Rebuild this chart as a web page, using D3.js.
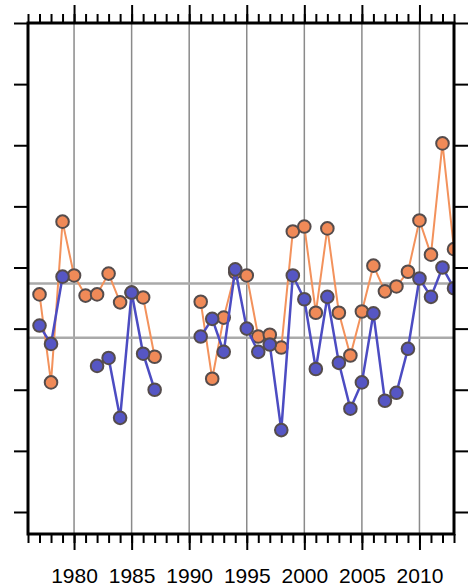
<!DOCTYPE html>
<html lang="en">

<head>
    <meta charset="UTF-8">
    <title>Chart</title>
    <style>
        body { margin: 0; background: #fff; }
    </style>
</head>

<body>
    <svg id="chart"></svg>

    <script src="https://d3js.org/d3.v7.min.js"></script>
    <script>
        // years on the x axis
        const years = d3.range(1976, 2014);

        // orange series (missing years have no value)
        const orangeValues = {
            1977: 0.56, 1978: -0.88, 1979: 1.75, 1980: 0.87, 1981: 0.54, 1982: 0.56,
            1983: 0.90, 1984: 0.43, 1985: 0.59, 1986: 0.51, 1987: -0.46,
            1991: 0.44, 1992: -0.82, 1993: 0.18, 1994: 0.92, 1995: 0.87, 1996: -0.13,
            1997: -0.10, 1998: -0.31, 1999: 1.59, 2000: 1.67, 2001: 0.26, 2002: 1.64,
            2003: 0.26, 2004: -0.44, 2005: 0.28, 2006: 1.03, 2007: 0.61, 2008: 0.69,
            2009: 0.93, 2010: 1.77, 2011: 1.21, 2012: 3.03, 2013: 1.30
        };

        // blue series
        const blueValues = {
            1977: 0.05, 1978: -0.25, 1979: 0.85, 1982: -0.61, 1983: -0.48,
            1984: -1.46, 1985: 0.59, 1986: -0.41, 1987: -1.00,
            1991: -0.13, 1992: 0.16, 1993: -0.38, 1994: 0.97, 1995: 0.00, 1996: -0.38,
            1997: -0.26, 1998: -1.66, 1999: 0.87, 2000: 0.48, 2001: -0.66, 2002: 0.52,
            2003: -0.56, 2004: -1.31, 2005: -0.88, 2006: 0.25, 2007: -1.18, 2008: -1.05,
            2009: -0.33, 2010: 0.82, 2011: 0.52, 2012: 1.00, 2013: 0.66
        };

        // horizontal reference lines
        const refLines = [0.74, -0.15];

        const yearTicks = [1980, 1985, 1990, 1995, 2000, 2005, 2010];
        const yTicks = [-3, -2, -1, 0, 1, 2, 3, 4, 5];

        const width = 473, height = 587;
        const marginLeft = 28, marginRight = 19, marginTop = 23, marginBottom = 53;

        const x = d3.scaleLinear([1976, 2013], [marginLeft, width - marginRight]);
        const y = d3.scaleLinear([-3.36, 5], [height - marginBottom, marginTop]);

        const svg = d3.select("#chart")
            .attr("width", width)
            .attr("height", height)
            .attr("viewBox", [0, 0, width, height])
            .attr("font-family", "Liberation Sans, Arial, sans-serif");

        svg.append("clipPath").attr("id", "clip")
            .append("rect")
            .attr("x", marginLeft).attr("y", marginTop)
            .attr("width", x(2013) - marginLeft)
            .attr("height", y(-3.36) - marginTop);

        // vertical grid every 5 years
        svg.append("g")
            .selectAll("line")
            .data(yearTicks)
            .join("line")
            .attr("x1", d => x(d)).attr("x2", d => x(d))
            .attr("y1", marginTop).attr("y2", height - marginBottom)
            .attr("stroke", "#8a8a8a")
            .attr("stroke-width", 1.5);

        // reference lines
        svg.append("g")
            .selectAll("line")
            .data(refLines)
            .join("line")
            .attr("x1", marginLeft).attr("x2", width - marginRight)
            .attr("y1", d => y(d)).attr("y2", d => y(d))
            .attr("stroke", "#aaaaaa")
            .attr("stroke-width", 2.5);

        function series(values, lineColor, fillColor, lineWidth) {
            const pts = years.map(yr => ({ year: yr, value: values[yr] == null ? null : values[yr] }));
            const line = d3.line()
                .defined(d => d.value != null)
                .x(d => x(d.year))
                .y(d => y(d.value));
            const g = svg.append("g").attr("clip-path", "url(#clip)");
            g.append("path")
                .datum(pts)
                .attr("fill", "none")
                .attr("stroke", lineColor)
                .attr("stroke-width", lineWidth)
                .attr("d", line);
            g.selectAll("circle")
                .data(pts.filter(d => d.value != null))
                .join("circle")
                .attr("cx", d => x(d.year))
                .attr("cy", d => y(d.value))
                .attr("r", 6.3)
                .attr("fill", fillColor)
                .attr("stroke", "#554c4c")
                .attr("stroke-width", 2);
        }

        series(orangeValues, "#f3925c", "#f08a58", 2);
        series(blueValues, "#4c4cc2", "#5656c4", 2.5);

        // axes
        const axisStyle = g => g.call(g => g.select(".domain").remove())
            .call(g => g.selectAll(".tick line").attr("stroke", "#000").attr("stroke-width", 2));

        svg.append("g")
            .attr("transform", `translate(0,${height - marginBottom})`)
            .call(d3.axisBottom(x).tickValues(years).tickSize(9).tickFormat(""))
            .call(axisStyle);
        svg.append("g")
            .attr("transform", `translate(0,${height - marginBottom})`)
            .call(d3.axisBottom(x).tickValues(yearTicks).tickSize(16).tickPadding(18).tickFormat(d3.format("d")))
            .call(axisStyle)
            .call(g => g.selectAll("text").attr("font-size", 21).attr("fill", "#000"));

        svg.append("g")
            .attr("transform", `translate(0,${marginTop})`)
            .call(d3.axisTop(x).tickValues(years).tickSize(9).tickFormat(""))
            .call(axisStyle);
        svg.append("g")
            .attr("transform", `translate(0,${marginTop})`)
            .call(d3.axisTop(x).tickValues(yearTicks).tickSize(18).tickFormat(""))
            .call(axisStyle);

        svg.append("g")
            .attr("transform", `translate(${marginLeft},0)`)
            .call(d3.axisLeft(y).tickValues(yTicks).tickSize(14).tickFormat(""))
            .call(axisStyle);
        svg.append("g")
            .attr("transform", `translate(${width - marginRight},0)`)
            .call(d3.axisRight(y).tickValues(yTicks).tickSize(14).tickFormat(""))
            .call(axisStyle);

        // frame
        svg.append("rect")
            .attr("x", marginLeft).attr("y", marginTop)
            .attr("width", x(2013) - marginLeft)
            .attr("height", y(-3.36) - marginTop)
            .attr("fill", "none")
            .attr("stroke", "#000")
            .attr("stroke-width", 3);
    </script>
</body>

</html>
